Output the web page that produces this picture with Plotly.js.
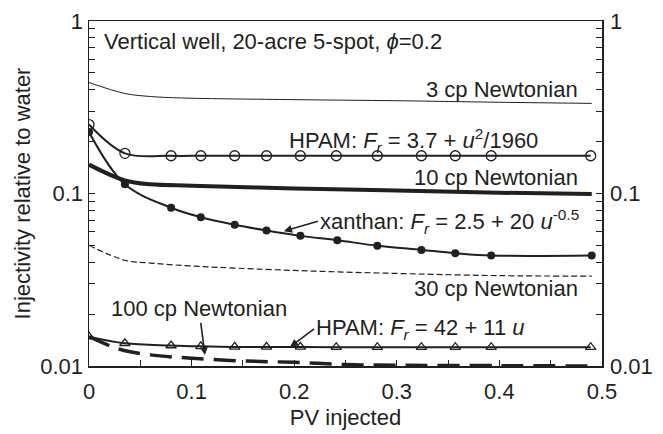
<!DOCTYPE html>
<html>
<head>
<meta charset="utf-8">
<script src="https://cdn.plot.ly/plotly-3.0.1.min.js"></script>
<style>
  html, body { margin: 0; padding: 0; background: #fff; }
  #chart { width: 663px; height: 434px; }
</style>
</head>
<body>
<div id="chart"></div>
<script>
// Injectivity relative to water vs. pore volumes injected
const pv3cp   = [0, 0.035, 0.06, 0.09, 0.2, 0.3, 0.4, 0.49];
const inj3cp  = [0.44, 0.38, 0.365, 0.358, 0.35, 0.345, 0.338, 0.333];

const pv10cp  = [0, 0.035, 0.06, 0.1, 0.2, 0.3, 0.4, 0.49];
const inj10cp = [0.147, 0.119, 0.113, 0.111, 0.107, 0.104, 0.101, 0.0995];

const pv30cp  = [0, 0.035, 0.06, 0.1, 0.2, 0.3, 0.4, 0.49];
const inj30cp = [0.05, 0.041, 0.0395, 0.038, 0.0358, 0.0344, 0.0334, 0.0332];

const pv100cp  = [0, 0.03, 0.06, 0.1, 0.15, 0.2, 0.25, 0.3, 0.4, 0.49];
const inj100cp = [0.0148, 0.0125, 0.0116, 0.0111, 0.0107, 0.0105, 0.0102, 0.0101, 0.01005, 0.01];

// HPAM, Fr = 3.7 + u^2/1960
const pvHpamA  = [0, 0.035, 0.08, 0.109, 0.142, 0.173, 0.206, 0.241, 0.281, 0.324, 0.357, 0.392, 0.489];
const injHpamA = [0.251, 0.171, 0.1655, 0.1655, 0.1655, 0.1655, 0.1655, 0.1655, 0.1655, 0.1655, 0.1655, 0.1655, 0.1655];

// xanthan, Fr = 2.5 + 20 u^-0.5
const pvXan  = [0, 0.035, 0.08, 0.109, 0.142, 0.173, 0.206, 0.242, 0.281, 0.324, 0.357, 0.392, 0.49];
const injXan = [0.227, 0.113, 0.0827, 0.0729, 0.0659, 0.061, 0.0568, 0.0536, 0.0498, 0.0471, 0.0451, 0.0437, 0.0437];

// HPAM, Fr = 42 + 11 u
const pvHpamB  = [0, 0.035, 0.08, 0.109, 0.142, 0.173, 0.206, 0.241, 0.281, 0.324, 0.357, 0.392, 0.489];
const injHpamB = [0.0148, 0.01355, 0.01315, 0.013, 0.0129, 0.0129, 0.0129, 0.01285, 0.01285, 0.01285, 0.01285, 0.01285, 0.01285];

// axis ticks
const xMajor = [0, 0.1, 0.2, 0.3, 0.4, 0.5];
const xMinor = [0.05, 0.15, 0.25, 0.35, 0.45];
const yMajor = [0.01, 0.1, 1];
const yMajorText = ['0.01', '0.1', '1'];
const yMinor = [0.02, 0.03, 0.04, 0.05, 0.06, 0.07, 0.08, 0.09,
                0.2, 0.3, 0.4, 0.5, 0.6, 0.7, 0.8, 0.9];

const ink = '#231f20';
const font = { family: 'Liberation Sans, Arial, sans-serif', size: 22, color: ink };

const traces = [
  { x: pv3cp, y: inj3cp, mode: 'lines', line: { color: ink, width: 1, shape: 'spline' } },
  { x: pv10cp, y: inj10cp, mode: 'lines', line: { color: ink, width: 4, shape: 'spline' } },
  { x: pv30cp, y: inj30cp, mode: 'lines', line: { color: ink, width: 1.2, dash: '6px,3px', shape: 'spline' } },
  { x: pv100cp, y: inj100cp, mode: 'lines', line: { color: ink, width: 3.5, dash: '22px,10px', shape: 'spline' } },
  { x: pvHpamA, y: injHpamA, mode: 'lines+markers', line: { color: ink, width: 2, shape: 'spline' },
    marker: { symbol: 'circle-open', size: 10, color: ink, line: { width: 1.3 } } },
  { x: pvXan, y: injXan, mode: 'lines+markers', line: { color: ink, width: 2, shape: 'spline' },
    marker: { symbol: 'circle', size: 8, color: ink } },
  { x: pvHpamB, y: injHpamB, mode: 'lines+markers', line: { color: ink, width: 2, shape: 'spline' },
    marker: { symbol: 'triangle-up-open', size: 9, color: ink, line: { width: 1.3 } } }
];

function label(text, x, y, xanchor) {
  return { text: text, x: x, y: y, xref: 'paper', yref: 'paper', xanchor: xanchor, yanchor: 'middle',
           showarrow: false, font: font };
}
function pointer(text, x, y, ax, ay, xanchor) {
  return { text: text, x: x, y: Math.log10(y), xref: 'x', yref: 'y', ax: ax, ay: ay,
           axref: 'pixel', ayref: 'pixel', xanchor: xanchor, yanchor: 'middle',
           showarrow: true, arrowhead: 2, arrowsize: 1, arrowwidth: 1.6, arrowcolor: ink,
           standoff: 0, font: font };
}
// right-hand copy of the decade labels
function rightTick(v, t) {
  return { text: t, x: 1, y: Math.log10(v), xref: 'paper', yref: 'y', xanchor: 'left', yanchor: 'middle',
           xshift: 6, showarrow: false, font: font };
}

const annotations = [
  label('Vertical well, 20-acre 5-spot, <i>\u03d5</i>=0.2', 0.025, 0.94, 'left'),
  label('3 cp Newtonian', 0.957, 0.802, 'right'),
  label('HPAM: <i>F<sub>r</sub></i> = 3.7 + <i>u</i><sup>2</sup>/1960', 0.385, 0.655, 'left'),
  label('10 cp Newtonian', 0.957, 0.545, 'right'),
  label('30 cp Newtonian', 0.957, 0.225, 'right'),
  pointer('xanthan: <i>F<sub>r</sub></i> = 2.5 + 20 <i>u</i><sup>-0.5</sup>', 0.19, 0.0605, 34, -10, 'left'),
  pointer('100 cp Newtonian', 0.113, 0.0116, -6, -46, 'center'),
  pointer('HPAM: <i>F<sub>r</sub></i> = 42 + 11 <i>u</i>', 0.196, 0.0129, 24, -18, 'left')
];
yMajor.forEach(function (v, i) { annotations.push(rightTick(v, yMajorText[i])); });

const layout = {
  width: 663, height: 434,
  margin: { l: 89, r: 61, t: 21, b: 68 },
  paper_bgcolor: '#ffffff', plot_bgcolor: '#ffffff',
  showlegend: false,
  font: font,
  xaxis: {
    range: [0, 0.5], tickmode: 'array', tickvals: xMajor,
    ticktext: xMajor.map(function (v) { return String(v); }),
    ticks: 'inside', ticklen: 6, tickwidth: 1, tickcolor: ink, ticklabelstandoff: 5,
    minor: { tickmode: 'array', tickvals: xMinor, ticks: 'inside', ticklen: 6, tickwidth: 1, tickcolor: ink, showgrid: false },
    showline: true, linecolor: ink, linewidth: 1.5, mirror: true,
    showgrid: false, zeroline: false,
    tickfont: font,
    title: { text: 'PV injected', font: font, standoff: 6 }
  },
  yaxis: {
    type: 'log', range: [-2, 0], tickmode: 'array',
    tickvals: yMajor, ticktext: yMajorText,
    ticks: 'inside', ticklen: 6, tickwidth: 1, tickcolor: ink,
    minor: { tickmode: 'array', tickvals: yMinor, ticks: 'inside', ticklen: 6, tickwidth: 1, tickcolor: ink, showgrid: false },
    showline: true, linecolor: ink, linewidth: 1.5, mirror: 'ticks',
    showgrid: false, zeroline: false,
    tickfont: font,
    title: { text: 'Injectivity relative to water', font: font, standoff: 3 }
  },
  annotations: annotations
};

Plotly.newPlot('chart', traces, layout, { displayModeBar: false, staticPlot: true });
</script>
</body>
</html>
